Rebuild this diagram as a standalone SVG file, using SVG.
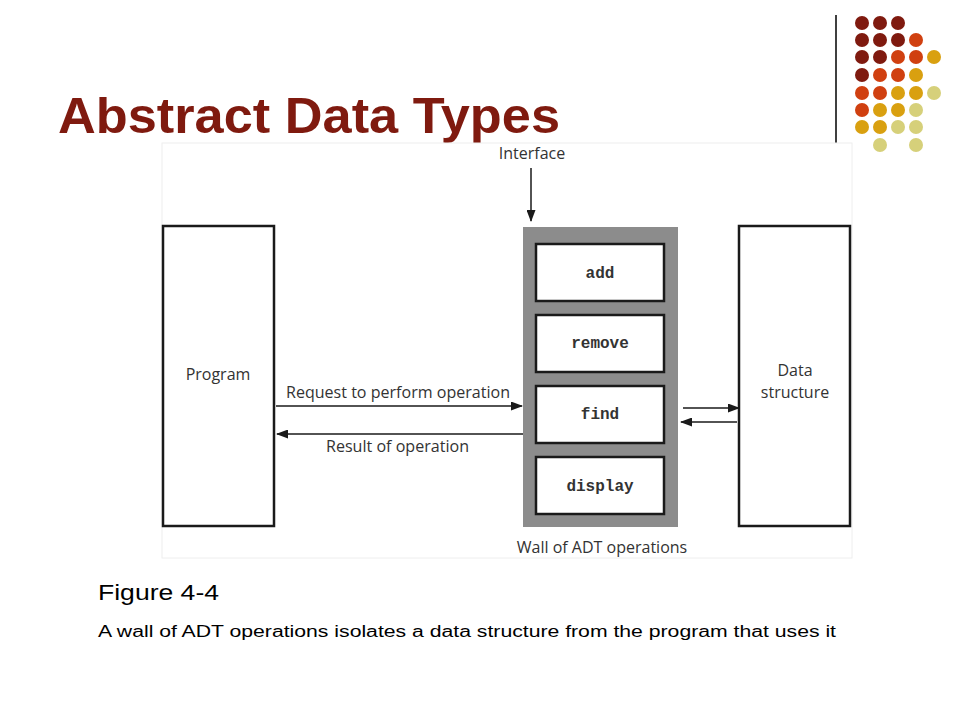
<svg xmlns="http://www.w3.org/2000/svg" width="960" height="720" viewBox="0 0 960 720">
<defs>
<style>
.s{font-family:"Open Sans","DejaVu Sans",sans-serif;font-size:16px;fill:#333}
.m{font-family:"Liberation Mono",monospace;font-size:16px;font-weight:bold;fill:#333;text-anchor:middle}
.box{fill:#fff;stroke:#1a1a1a;stroke-width:2.5}
.ln{stroke:#1a1a1a;stroke-width:1.5;fill:none}
.d{fill:#7f1a0f}.o{fill:#d04010}.g{fill:#d9a010}.p{fill:#d6d07a}
circle{r:7px}
</style>
<marker id="ah" markerWidth="12" markerHeight="9" refX="11" refY="4.5" orient="auto" markerUnits="userSpaceOnUse"><path d="M0,0L12,4.5L0,9z" fill="#1a1a1a"/></marker>
</defs>
<rect width="960" height="720" fill="#fff"/>
<line x1="836" y1="15" x2="836" y2="143" stroke="#000" stroke-width="1.5"/>
<g id="dots">
<circle class="d" cx="862" cy="23" r="7"/><circle class="d" cx="880" cy="23" r="7"/><circle class="d" cx="898" cy="23" r="7"/>
<circle class="d" cx="862" cy="40" r="7"/><circle class="d" cx="880" cy="40" r="7"/><circle class="d" cx="898" cy="40" r="7"/><circle class="o" cx="916" cy="40" r="7"/>
<circle class="d" cx="862" cy="57" r="7"/><circle class="d" cx="880" cy="57" r="7"/><circle class="o" cx="898" cy="57" r="7"/><circle class="o" cx="916" cy="57" r="7"/><circle class="g" cx="934" cy="57" r="7"/>
<circle class="d" cx="862" cy="75" r="7"/><circle class="o" cx="880" cy="75" r="7"/><circle class="o" cx="898" cy="75" r="7"/><circle class="g" cx="916" cy="75" r="7"/>
<circle class="o" cx="862" cy="93" r="7"/><circle class="o" cx="880" cy="93" r="7"/><circle class="g" cx="898" cy="93" r="7"/><circle class="g" cx="916" cy="93" r="7"/><circle class="p" cx="934" cy="93" r="7"/>
<circle class="o" cx="862" cy="110" r="7"/><circle class="g" cx="880" cy="110" r="7"/><circle class="g" cx="898" cy="110" r="7"/><circle class="p" cx="916" cy="110" r="7"/>
<circle class="g" cx="862" cy="127" r="7"/><circle class="g" cx="880" cy="127" r="7"/><circle class="p" cx="898" cy="127" r="7"/><circle class="p" cx="916" cy="127" r="7"/>
<circle class="p" cx="880" cy="145" r="7"/><circle class="p" cx="916" cy="145" r="7"/>
</g>
<text x="58" y="133" font-family="Liberation Sans,Arial,sans-serif" font-size="50" font-weight="bold" fill="#7f1a0f" textLength="502" lengthAdjust="spacingAndGlyphs">Abstract Data Types</text>
<rect x="162" y="143" width="690" height="415" fill="#fff" stroke="#eee"/>
<g id="program"><rect class="box" x="163" y="226" width="111" height="300"/><text class="s" x="218" y="380" text-anchor="middle">Program</text></g>
<g id="wall"><rect x="523" y="227" width="155" height="300" fill="#8c8c8c"/><text class="s" x="602" y="553" text-anchor="middle">Wall of ADT operations</text></g>
<g id="add"><rect class="box" x="536" y="244" width="128" height="57"/><text class="m" x="600" y="278">add</text></g>
<g id="remove"><rect class="box" x="536" y="315" width="128" height="57"/><text class="m" x="600" y="348">remove</text></g>
<g id="find"><rect class="box" x="536" y="386" width="128" height="57"/><text class="m" x="600" y="419">find</text></g>
<g id="display"><rect class="box" x="536" y="457" width="128" height="57"/><text class="m" x="600" y="491">display</text></g>
<g id="data"><rect class="box" x="739" y="226" width="111" height="300"/><text class="s" x="795" y="376" text-anchor="middle">Data</text><text class="s" x="795" y="398" text-anchor="middle">structure</text></g>
<text class="s" x="532" y="159" text-anchor="middle">Interface</text>
<g id="connectors">
<line class="ln" x1="531" y1="168" x2="531" y2="221" marker-end="url(#ah)"/>
<line class="ln" x1="276" y1="406" x2="522" y2="406" marker-end="url(#ah)"/>
<line class="ln" x1="523" y1="434" x2="277" y2="434" marker-end="url(#ah)"/>
<line class="ln" x1="683" y1="408" x2="739" y2="408" marker-end="url(#ah)"/>
<line class="ln" x1="737" y1="422" x2="681" y2="422" marker-end="url(#ah)"/>
</g>
<text class="s" x="286" y="398" textLength="224" lengthAdjust="spacingAndGlyphs">Request to perform operation</text>
<text class="s" x="326" y="452" textLength="143" lengthAdjust="spacingAndGlyphs">Result of operation</text>
<text x="98" y="600" font-family="Liberation Sans,Arial,sans-serif" font-size="22" fill="#000" textLength="121" lengthAdjust="spacingAndGlyphs">Figure 4-4</text>
<text x="98" y="637" font-family="Liberation Sans,Arial,sans-serif" font-size="16" fill="#000" textLength="738" lengthAdjust="spacingAndGlyphs">A wall of ADT operations isolates a data structure from the program that uses it</text>
</svg>
